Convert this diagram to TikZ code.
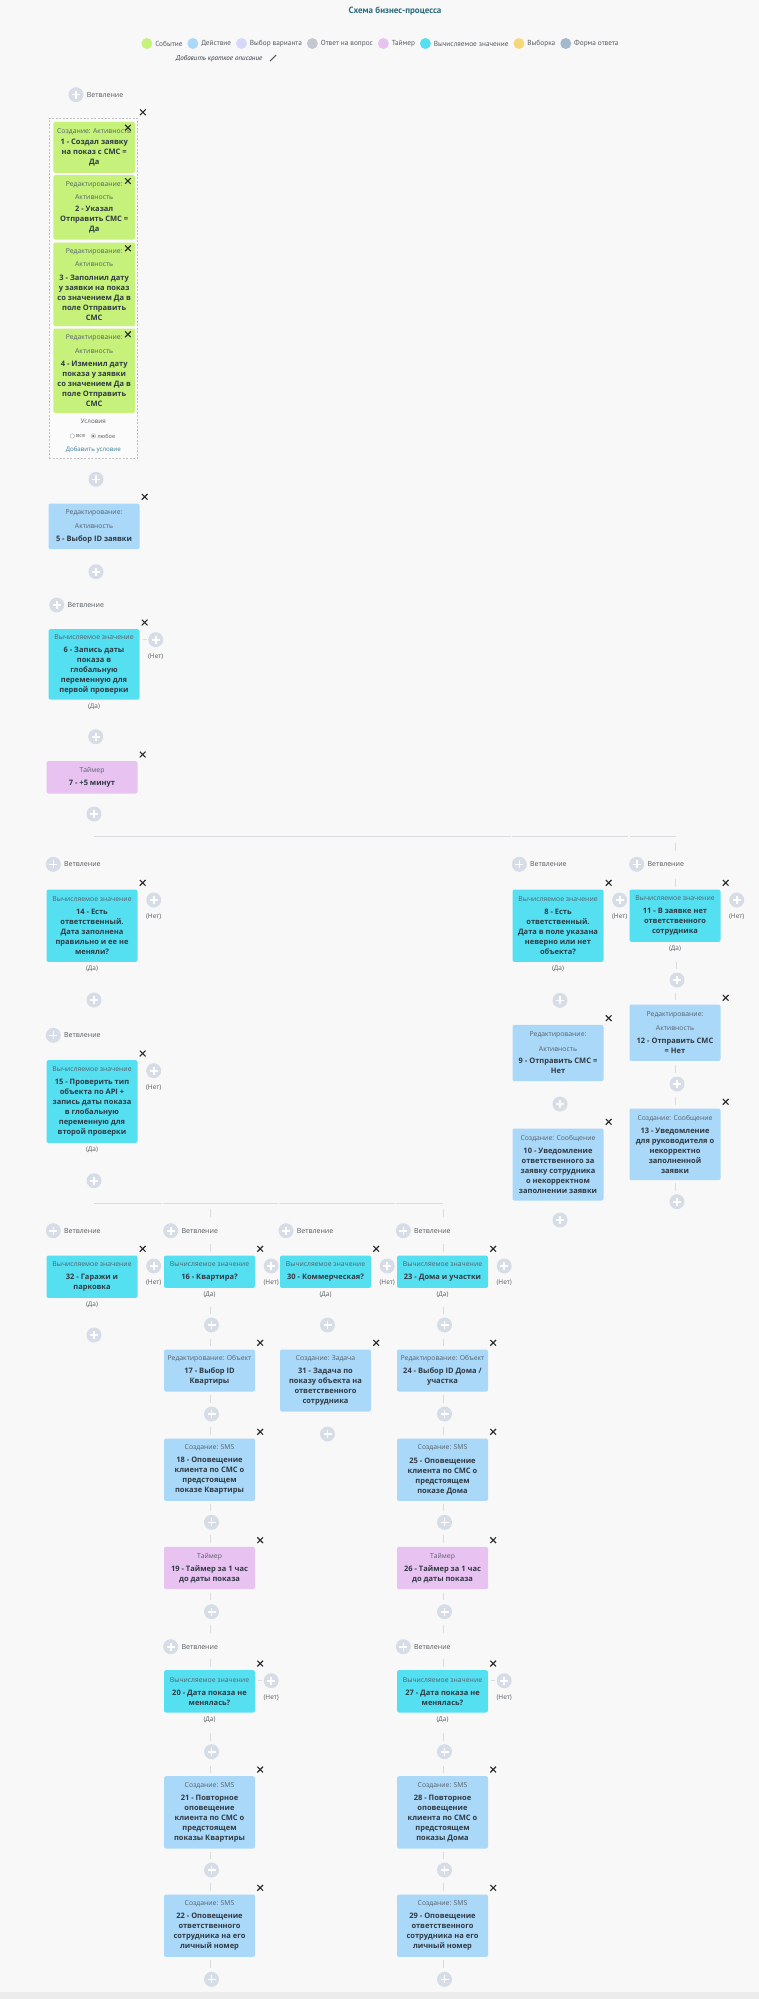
\documentclass[tikz,border=0pt]{standalone}
\usepackage{fontspec}
\setmainfont{Open Sans}
\newfontfamily\ptsans{PT Sans}
\usetikzlibrary{calc,shapes.misc}
\definecolor{bgc}{HTML}{F8F8F8}
\definecolor{evc}{HTML}{C6F17B}
\definecolor{acc}{HTML}{AAD8F8}
\definecolor{cac}{HTML}{55E0F2}
\definecolor{tic}{HTML}{E8C2F1}
\definecolor{chc}{HTML}{D5D8FB}
\definecolor{anc}{HTML}{C3C9CF}
\definecolor{sec}{HTML}{F6D87A}
\definecolor{foc}{HTML}{A3B7CF}
\definecolor{plc}{HTML}{D6DDE6}
\definecolor{txc}{HTML}{2F3942}
\definecolor{hdc}{HTML}{56606A}
\definecolor{lbc}{HTML}{555B61}
\definecolor{xc}{HTML}{2B2B2B}
\definecolor{lnc}{HTML}{D9DCDF}
\definecolor{ttc}{HTML}{2C6A7D}
\definecolor{lkc}{HTML}{3D7C98}
\definecolor{grc}{HTML}{C2C2C2}
\definecolor{grf}{HTML}{FBFBFB}
\definecolor{bandc}{HTML}{ECECEC}
\tikzset{
 bx/.style={rectangle, rounded corners=2pt, minimum width=91pt, inner sep=0pt, align=center, anchor=north, text=txc, font=\bfseries\fontsize{7.5}{10}\selectfont},
 ev/.style={bx, fill=evc, minimum width=81.7pt},
 ac/.style={bx, fill=acc},
 ca/.style={bx, fill=cac},
 ti/.style={bx, fill=tic},
 xm/.style={cross out, draw=xc, line width=1.1pt, minimum size=4.6pt, inner sep=0pt},
 pl/.style={circle, fill=plc, minimum size=15pt, inner sep=0pt, path picture={
   \draw[white, line width=1.6pt] ($(path picture bounding box.center)+(-4,0)$) -- ($(path picture bounding box.center)+(4,0)$);
   \draw[white, line width=1.6pt] ($(path picture bounding box.center)+(0,-4)$) -- ($(path picture bounding box.center)+(0,4)$);}},
 lbl/.style={font=\fontsize{6.5}{7}\selectfont, text=lbc, inner sep=0pt},
 vl/.style={font=\fontsize{7}{8}\selectfont, text=lbc, inner sep=0pt, anchor=west},
 cn/.style={draw=lnc, line width=0.9pt},
 hl/.style={draw=lnc, line width=1pt},
 lgc/.style={circle, minimum size=11pt, inner sep=0pt, anchor=west},
 lgt/.style={font=\ptsans\fontsize{7.3}{8}\selectfont, text=lbc, inner sep=0pt, anchor=west},
}
\newcommand\hd[1]{{\mdseries\fontsize{6.8}{10}\selectfont\color{hdc}#1}}
\newcommand\bxx[6]{\node[#2, minimum height=#5pt] (#1) at (#3,#4) {#6};
  \node[xm] (#1x) at ($(#1.north east)+(5,-6.5)$) {};}
\newcommand\nno[1]{\node[pl] (#1n) at ($(#1.north east)+(16,10.7)$) {};
  \node[lbl] (#1nt) at ($(#1n)+(0,17)$) {(Нет)};}
\newcommand\dalab[1]{\node[lbl] (#1d) at ($(#1.south)+(0,7)$) {(Да)};}
\newcommand\vet[3]{\node[pl] (#1) at (#2,#3) {}; \node[vl] (#1t) at ($(#1.east)+(3,0)$) {Ветвление};}
\newcommand\dsh[3]{\draw[cn] ($(#1)+(#2,#3)$) -- ++(0,7.5);}
\begin{document}
\begin{tikzpicture}[x=1pt,y=-1pt]
\path[use as bounding box, fill=bgc] (0,0) rectangle (759,1999);
\fill[bandc] (0,1992) rectangle (759,1999);
% title and legend
\node[font=\ptsans\bfseries\fontsize{9}{10}\selectfont, text=ttc] (title) at (395,11) {Схема бизнес-процесса};
\node[lgc, fill=evc] (l1) at (141.2,43.5) {};
\node[lgt] (l1t) at ($(l1.east)+(2.5,0)$) {Событие};
\node[lgc, fill=acc] (l2) at ($(l1t.east)+(4.5,0)$) {};
\node[lgt] (l2t) at ($(l2.east)+(2.5,0)$) {Действие};
\node[lgc, fill=chc] (l3) at ($(l2t.east)+(4.5,0)$) {};
\node[lgt] (l3t) at ($(l3.east)+(2.5,0)$) {Выбор варианта};
\node[lgc, fill=anc] (l4) at ($(l3t.east)+(4.5,0)$) {};
\node[lgt] (l4t) at ($(l4.east)+(2.5,0)$) {Ответ на вопрос};
\node[lgc, fill=tic] (l5) at ($(l4t.east)+(4.5,0)$) {};
\node[lgt] (l5t) at ($(l5.east)+(2.5,0)$) {Таймер};
\node[lgc, fill=cac] (l6) at ($(l5t.east)+(4.5,0)$) {};
\node[lgt] (l6t) at ($(l6.east)+(2.5,0)$) {Вычисляемое значение};
\node[lgc, fill=sec] (l7) at ($(l6t.east)+(4.5,0)$) {};
\node[lgt] (l7t) at ($(l7.east)+(2.5,0)$) {Выборка};
\node[lgc, fill=foc] (l8) at ($(l7t.east)+(4.5,0)$) {};
\node[lgt] (l8t) at ($(l8.east)+(2.5,0)$) {Форма ответа};
\node[font=\ptsans\itshape\fontsize{7}{8}\selectfont, text=txc, anchor=west, inner sep=0pt] (desc) at (175.7,58.6) {Добавить краткое описание};
\draw[lbc, line width=1.1pt] ($(desc.east)+(13.5,-3.5)$) -- ++(-6,6);
% column A top
\vet{vA0}{76}{94.7}
\node[draw=grc, dash pattern=on 2pt off 1.5pt, fill=grf, minimum width=88pt, minimum height=340pt, anchor=north, inner sep=0pt] (grp) at (93.3,118.3) {};
\node[xm] (grpx) at ($(grp.north east)+(5.4,-6)$) {};
\node[ev, minimum height=51pt] (b1) at (94.2,121.7) {\hd{Создание: Активность}\\[1.7pt] 1 - Создал заявку\\ на показ с СМС =\\ Да};
\node[ev, minimum height=64.3pt] (b2) at (94.2,175) {\hd{Редактирование:}\\[3.7pt]\hd{Активность}\\[2pt] 2 - Указал\\ Отправить СМС =\\ Да};
\node[ev, minimum height=83.7pt] (b3) at (94.2,242.3) {\hd{Редактирование:}\\[3.7pt]\hd{Активность}\\[3.3pt] 3 - Заполнил дату\\ у заявки на показ\\ со значением Да в\\ поле Отправить\\ СМС};
\node[ev, minimum height=84.4pt] (b4) at (94.2,328.3) {\hd{Редактирование:}\\[4.4pt]\hd{Активность}\\[3.3pt] 4 - Изменил дату\\ показа у заявки\\ со значением Да в\\ поле Отправить\\ СМС};
\foreach \b in {b1,b2,b3,b4}{\node[xm] (\b x) at ($(\b.north east)+(-7.3,6)$) {};}
\node[lbl, font=\fontsize{6.3}{7}\selectfont] (cond) at (93.3,421.7) {Условия};
\node[circle, draw=gray!70, fill=white, line width=0.4pt, minimum size=4.6pt, inner sep=0pt] (r1) at (72.3,436) {};
\node[lbl, anchor=west, font=\fontsize{5.6}{7}\selectfont] (r1t) at ($(r1.east)+(1.2,0)$) {все};
\node[circle, draw=gray!70, fill=white, line width=0.4pt, minimum size=4.6pt, inner sep=0pt] (r2) at (93.3,436) {};
\fill[gray!80!black] (r2) circle (1.2pt);
\node[lbl, anchor=west, font=\fontsize{5.6}{7}\selectfont] (r2t) at ($(r2.east)+(1.5,0)$) {любое};
\node[lbl, text=lkc, font=\fontsize{6.2}{7}\selectfont] (addc) at (93.3,450) {Добавить условие};
\node[pl] (pA1) at (96,479.3) {};
\bxx{b5}{ac}{94}{503.3}{45.7}{\hd{Редактирование:}\\[4.4pt]\hd{Активность}\\[2.6pt] 5 - Выбор ID заявки}
\node[pl] (pA2) at (96,571.7) {};
\vet{vA1}{56.7}{605}
\bxx{b6}{ca}{94}{629}{70.3}{\hd{Вычисляемое значение}\\[3.4pt] 6 - Запись даты\\ показа в\\ глобальную\\ переменную для\\ первой проверки}
\nno{b6}\dalab{b6}
\draw[cn] ($(b6n.west)+(-5.5,0)$) -- ++(4,0);
\node[pl] (pA3) at (95.7,736.7) {};
\bxx{b7}{ti}{92}{761}{32.3}{\hd{Таймер}\\[3pt] 7 - +5 минут}
\node[pl] (pA4) at (94,814) {};
% first split line
\coordinate (h1a) at (94,836.7); \coordinate (h1b) at (510.5,836.7);
\coordinate (h1c) at (511.7,836.7); \coordinate (h1d) at (628.3,836.7);
\coordinate (h1e) at (629.5,836.7); \coordinate (h1f) at (676,836.7);
\draw[hl] (h1a) -- (h1b); \draw[hl] (h1c) -- (h1d); \draw[hl] (h1e) -- (h1f);
% column A lower
\vet{vA2}{53.3}{864.3}
\bxx{b14}{ca}{92}{889.3}{72.4}{\hd{Вычисляемое значение}\\[3pt] 14 - Есть\\ ответственный.\\ Дата заполнена\\ правильно и ее не\\ меняли?}
\nno{b14}\dalab{b14}
\node[pl] (pA5) at (94,1000) {};
\vet{vA3}{53.3}{1035.3}
\bxx{b15}{ca}{92}{1060}{82.7}{\hd{Вычисляемое значение}\\[3.3pt] 15 - Проверить тип\\ объекта по API +\\ запись даты показа\\ в глобальную\\ переменную для\\ второй проверки}
\nno{b15}\dalab{b15}
\node[pl] (pA6) at (94,1180.7) {};
% second split line
\coordinate (h2a) at (94,1203.3); \coordinate (h2b) at (161.7,1203.3);
\coordinate (h2c) at (162.7,1203.3); \coordinate (h2d) at (277.7,1203.3);
\coordinate (h2e) at (278.7,1203.3); \coordinate (h2f) at (395,1203.3);
\coordinate (h2g) at (396,1203.3); \coordinate (h2h) at (442.7,1203.3);
\draw[hl] (h2a) -- (h2b); \draw[hl] (h2c) -- (h2d); \draw[hl] (h2e) -- (h2f); \draw[hl] (h2g) -- (h2h);
\vet{vA4}{53.3}{1230.7}
\bxx{b32}{ca}{92}{1255.3}{42.4}{\hd{Вычисляемое значение}\\[3pt] 32 - Гаражи и\\ парковка}
\nno{b32}\dalab{b32}
\node[pl] (pA7) at (94,1335) {};
% column 16
\vet{v16}{170.7}{1230.7}
\bxx{b16}{ca}{209.5}{1255.3}{32.4}{\hd{Вычисляемое значение}\\[3pt] 16 - Квартира?}
\nno{b16}\dalab{b16}
\node[pl] (p16) at (211.5,1325) {};
\bxx{b17}{ac}{209.5}{1349.3}{42}{\hd{Редактирование: Объект}\\[3.3pt] 17 - Выбор ID\\ Квартиры}
\node[pl] (p17) at (211.5,1414) {};
\bxx{b18}{ac}{209.5}{1438.3}{62.4}{\hd{Создание: SMS}\\[3.4pt] 18 - Оповещение\\ клиента по СМС о\\ предстоящем\\ показе Квартиры}
\node[pl] (p18) at (211.5,1522.3) {};
\bxx{b19}{ti}{209.5}{1546.7}{42.3}{\hd{Таймер}\\[3.4pt] 19 - Таймер за 1 час\\ до даты показа}
\node[pl] (p19) at (211.5,1611.7) {};
\vet{v16b}{170.7}{1646.7}
\bxx{b20}{ca}{209.5}{1670}{42.3}{\hd{Вычисляемое значение}\\[3.3pt] 20 - Дата показа не\\ менялась?}
\nno{b20}\dalab{b20}
\draw[cn] ($(b20n.west)+(-5.5,0)$) -- ++(4,0);
\node[pl] (p20) at (211.5,1751.7) {};
\bxx{b21}{ac}{209.5}{1776}{72.3}{\hd{Создание: SMS}\\[3pt] 21 - Повторное\\ оповещение\\ клиента по СМС о\\ предстоящем\\ показы Квартиры}
\node[pl] (p21) at (211.5,1870) {};
\bxx{b22}{ac}{209.5}{1894.3}{62.4}{\hd{Создание: SMS}\\[3.3pt] 22 - Оповещение\\ ответственного\\ сотрудника на его\\ личный номер}
\node[pl] (p22) at (211.5,1979.3) {};
% column 30
\vet{v30}{286}{1230.7}
\bxx{b30}{ca}{325.5}{1255.3}{32.4}{\hd{Вычисляемое значение}\\[3pt] 30 - Коммерческая?}
\nno{b30}\dalab{b30}
\node[pl] (p30) at (327.5,1325) {};
\bxx{b31}{ac}{325.5}{1349.3}{62}{\hd{Создание: Задача}\\[3.3pt] 31 - Задача по\\ показу объекта на\\ ответственного\\ сотрудника}
\node[pl] (p31) at (327.5,1434) {};
% column 23
\vet{v23}{403.3}{1230.7}
\bxx{b23}{ca}{442.5}{1255.3}{32.4}{\hd{Вычисляемое значение}\\[3pt] 23 - Дома и участки}
\nno{b23}\dalab{b23}
\node[pl] (p23) at (444.5,1325) {};
\bxx{b24}{ac}{442.5}{1349.3}{42}{\hd{Редактирование: Объект}\\[3.3pt] 24 - Выбор ID Дома /\\ участка}
\node[pl] (p24) at (444.5,1414) {};
\bxx{b25}{ac}{442.5}{1438.3}{62.4}{\hd{Создание: SMS}\\[3.4pt] 25 - Оповещение\\ клиента по СМС о\\ предстоящем\\ показе Дома}
\node[pl] (p25) at (444.5,1522.3) {};
\bxx{b26}{ti}{442.5}{1546.7}{42.3}{\hd{Таймер}\\[3.4pt] 26 - Таймер за 1 час\\ до даты показа}
\node[pl] (p26) at (444.5,1611.7) {};
\vet{v23b}{403.3}{1646.7}
\bxx{b27}{ca}{442.5}{1670}{42.3}{\hd{Вычисляемое значение}\\[3.3pt] 27 - Дата показа не\\ менялась?}
\nno{b27}\dalab{b27}
\draw[cn] ($(b27n.west)+(-5.5,0)$) -- ++(4,0);
\node[pl] (p27) at (444.5,1751.7) {};
\bxx{b28}{ac}{442.5}{1776}{72.3}{\hd{Создание: SMS}\\[3pt] 28 - Повторное\\ оповещение\\ клиента по СМС о\\ предстоящем\\ показы Дома}
\node[pl] (p28) at (444.5,1870) {};
\bxx{b29}{ac}{442.5}{1894.3}{62.4}{\hd{Создание: SMS}\\[3.3pt] 29 - Оповещение\\ ответственного\\ сотрудника на его\\ личный номер}
\node[pl] (p29) at (444.5,1979.3) {};
% column B
\vet{vB}{519.3}{864.3}
\bxx{b8}{ca}{558}{889.3}{72.4}{\hd{Вычисляемое значение}\\[3pt] 8 - Есть\\ ответственный.\\ Дата в поле указана\\ неверно или нет\\ объекта?}
\nno{b8}\dalab{b8}
\node[pl] (p8) at (560,1000.3) {};
\bxx{b9}{ac}{558}{1024.7}{56.3}{\hd{Редактирование:}\\[4.3pt]\hd{Активность}\\[2.7pt] 9 - Отправить СМС =\\ Нет}
\node[pl] (p9) at (560,1104) {};
\bxx{b10}{ac}{558}{1128.3}{72}{\hd{Создание: Сообщение}\\[3.6pt] 10 - Уведомление\\ ответственного за\\ заявку сотрудника\\ о некорректном\\ заполнении заявки}
\node[pl] (p10) at (560,1220) {};
% column C
\vet{vC}{636.7}{864.3}
\bxx{b11}{ca}{675}{889.3}{52.4}{\hd{Вычисляемое значение}\\[3pt] 11 - В заявке нет\\ ответственного\\ сотрудника}
\nno{b11}\dalab{b11}
\node[pl] (p11) at (677,980) {};
\bxx{b12}{ac}{675}{1004.3}{56.4}{\hd{Редактирование:}\\[4.3pt]\hd{Активность}\\[2.7pt] 12 - Отправить СМС\\ = Нет}
\node[pl] (p12) at (677,1084) {};
\bxx{b13}{ac}{675}{1108.3}{71.7}{\hd{Создание: Сообщение}\\[3.3pt] 13 - Уведомление\\ для руководителя о\\ некорректно\\ заполненной\\ заявки}
\node[pl] (p13) at (677,1201.7) {};
% dashed connectors
\foreach \c in {16,23}{
  \pgfmathtruncatemacro\cb{\c==16 ? 17 : 24}
  \pgfmathtruncatemacro\cc{\c==16 ? 18 : 25}
  \pgfmathtruncatemacro\cd{\c==16 ? 19 : 26}
  \pgfmathtruncatemacro\ce{\c==16 ? 20 : 27}
  \pgfmathtruncatemacro\cf{\c==16 ? 21 : 28}
  \pgfmathtruncatemacro\cg{\c==16 ? 22 : 29}
  \dsh{b\c.north}{0.7}{-46}\dsh{b\c.north}{0.7}{-11}
  \dsh{p\c.north}{-1}{-10.8}
  \dsh{b\cb.north}{0.7}{-10.5}\dsh{b\cb.south}{0.7}{3.5}
  \dsh{b\cc.north}{0.7}{-11}\dsh{b\cc.south}{0.7}{2.5}
  \dsh{b\cd.north}{0.7}{-11.5}\dsh{b\cd.south}{0.7}{3.3}
  \dsh{b\ce.north}{0.7}{-45}\dsh{b\ce.north}{0.7}{-11}
  \dsh{p\ce.north}{-1}{-10.8}
  \dsh{b\cf.north}{0.7}{-10.5}\dsh{b\cf.south}{0.7}{2.8}
  \dsh{b\cg.north}{0.7}{-11}\dsh{b\cg.south}{0.7}{3.3}
}
\dsh{b11.north}{0.7}{-46}\dsh{b11.north}{0.7}{-10}
\dsh{p11.north}{-1}{-10.8}
\dsh{b12.north}{0.7}{-11.5}\dsh{b12.south}{0.7}{4}
\dsh{b13.north}{0.7}{-11}\dsh{b13.south}{0.7}{3}
\end{tikzpicture}
\end{document}
